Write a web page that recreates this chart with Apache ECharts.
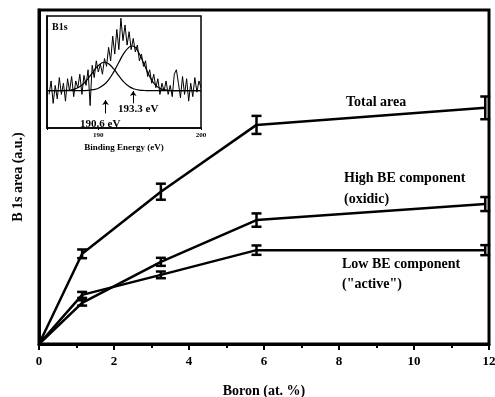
<!DOCTYPE html>
<html>
<head>
<meta charset="utf-8">
<script src="https://cdn.jsdelivr.net/npm/echarts@6/dist/echarts.min.js"></script>
<style>
  html, body { margin: 0; padding: 0; background: #fff; }
  #chart { width: 495px; height: 397px; }
</style>
</head>
<body>
<div id="chart"></div>
<script>
// main plot: B 1s area vs boron content
const boron = [0, 1.15, 3.25, 5.8, 11.9]
const totalArea = [0, 27.0, 45.6, 65.6, 70.7]
const totalErr = [0, 1.3, 2.4, 2.7, 3.4]
const highBE = [0, 12.3, 24.6, 37.1, 41.9]
const highErr = [0, 0.8, 1.2, 2.0, 2.1]
const lowBE = [0, 14.7, 20.7, 28.1, 28.1]
const lowErr = [0, 0.9, 1.0, 1.4, 1.5]

// inset: B1s spectrum, 185.2 .. 200 eV in 0.2 eV steps
const specStart = 185.2
const specStep = 0.2
const specCounts = [
  30, 42, 22, 38, 26, 45, 30, 40, 24, 44,
  33, 46, 28, 42, 36, 48, 30, 47, 38, 52,
  20, 56, 45, 60, 50, 57, 48, 62, 55, 72,
  60, 82, 66, 88, 70, 98, 78, 92, 74, 86,
  70, 80, 68, 74, 60, 66, 55, 60, 46, 52,
  40, 48, 36, 44, 30, 40, 33, 42, 30, 38,
  28, 48, 52, 40, 27, 46, 30, 44, 24, 40,
  28, 45, 32, 42, 36
]
// fitted components read at 0.5 eV
const fitEnergy = [185, 186, 187, 187.5, 188, 188.5, 189, 189.5, 190, 190.6, 191, 191.5, 192, 192.5, 193, 193.3, 193.5, 194, 194.5, 195, 195.5, 196, 196.5, 197, 197.5, 198, 199, 200]
const lowFit = [33.3, 33.3, 33.6, 34.3, 35.9, 39.1, 44.1, 50.2, 55.8, 58.7, 57.4, 52.7, 46.5, 40.9, 37.0, 35.6, 34.8, 33.8, 33.5, 33.3, 33.3, 33.3, 33.3, 33.3, 33.3, 33.3, 33.3, 33.3]
const highFit = [33.3, 33.3, 33.3, 33.3, 33.3, 33.4, 33.6, 34.2, 35.5, 39.0, 43.0, 50.1, 58.7, 66.9, 72.2, 73.2, 72.8, 66.0, 56.0, 46.0, 39.0, 35.5, 34.0, 33.5, 33.3, 33.3, 33.3, 33.3]

const font = 'Liberation Serif'

function pairs (xs, ys) {
  return xs.map((x, i) => [x, ys[i]])
}
function errData (ys, es) {
  return boron.map((x, i) => [x, ys[i], es[i]])
}

function renderErr (params, api) {
  const x = api.value(0)
  const y = api.value(1)
  const e = api.value(2)
  if (!e) return null
  const top = api.coord([x, y + e])
  const bot = api.coord([x, y - e])
  const w = 5
  const style = { stroke: '#000', lineWidth: 2.5 }
  return {
    type: 'group',
    children: [
      { type: 'line', shape: { x1: top[0], y1: top[1], x2: bot[0], y2: bot[1] }, style: style },
      { type: 'line', shape: { x1: top[0] - w, y1: top[1], x2: top[0] + w, y2: top[1] }, style: style },
      { type: 'line', shape: { x1: bot[0] - w, y1: bot[1], x2: bot[0] + w, y2: bot[1] }, style: style }
    ]
  }
}

function mainLine (ys) {
  return {
    type: 'line',
    xAxisIndex: 0,
    yAxisIndex: 0,
    data: pairs(boron, ys),
    showSymbol: false,
    lineStyle: { color: '#000', width: 2.5 },
    z: 3
  }
}
function errSeries (ys, es) {
  return {
    type: 'custom',
    xAxisIndex: 0,
    yAxisIndex: 0,
    data: errData(ys, es),
    renderItem: renderErr,
    z: 4
  }
}

const specData = specCounts.map((v, i) => [+(specStart + i * specStep).toFixed(1), v])

const chart = echarts.init(document.getElementById('chart'))
const option = {
  animation: false,
  backgroundColor: '#fff',
  grid: [
    { left: 39, right: 6, top: 10, bottom: 53, show: true, borderColor: '#000', borderWidth: 3, containLabel: false, outerBoundsMode: 'none' },
    { left: 47, top: 16, width: 154, height: 112, show: true, backgroundColor: '#fff', borderColor: '#000', borderWidth: 1.5, z: 5, containLabel: false, outerBoundsMode: 'none' }
  ],
  xAxis: [
    {
      gridIndex: 0,
      type: 'value',
      min: 0,
      max: 12,
      interval: 2,
      name: 'Boron (at. %)',
      nameLocation: 'middle',
      nameGap: 40,
      nameTextStyle: { fontFamily: font, fontWeight: 'bold', fontSize: 14, color: '#000' },
      axisLine: { lineStyle: { color: '#000', width: 3 } },
      axisTick: { show: true, length: 6, lineStyle: { color: '#000', width: 2 } },
      minorTick: { show: true, splitNumber: 2, length: 4, lineStyle: { color: '#000', width: 2 } },
      splitLine: { show: false },
      axisLabel: { fontFamily: font, fontWeight: 'bold', fontSize: 13, color: '#000', margin: 11 }
    },
    {
      gridIndex: 1,
      type: 'value',
      min: 185,
      max: 200,
      interval: 5,
      name: 'Binding Energy (eV)',
      nameLocation: 'middle',
      nameGap: 15,
      nameTextStyle: { fontFamily: font, fontWeight: 'bold', fontSize: 9, color: '#000' },
      axisLine: { lineStyle: { color: '#000', width: 1.5 } },
      axisTick: { show: true, length: 2, lineStyle: { color: '#000', width: 1 } },
      splitLine: { show: false },
      axisLabel: {
        fontFamily: font,
        fontWeight: 'bold',
        fontSize: 7,
        color: '#000',
        margin: 4,
        formatter: function (v) { return (v === 190 || v === 200) ? String(v) : '' }
      },
      z: 6
    }
  ],
  yAxis: [
    {
      gridIndex: 0,
      type: 'value',
      min: 0,
      max: 100,
      name: 'B 1s area (a.u.)',
      nameLocation: 'middle',
      nameGap: 14,
      nameTextStyle: { fontFamily: font, fontWeight: 'bold', fontSize: 14, color: '#000' },
      axisLine: { show: true, lineStyle: { color: '#000', width: 3 } },
      axisTick: { show: false },
      axisLabel: { show: false },
      splitLine: { show: false }
    },
    {
      gridIndex: 1,
      type: 'value',
      min: 0,
      max: 100,
      axisLine: { show: true, lineStyle: { color: '#000', width: 1.5 } },
      axisTick: { show: false },
      axisLabel: { show: false },
      splitLine: { show: false },
      z: 6
    }
  ],
  graphic: [
    { type: 'text', left: 346, top: 95, style: { text: 'Total area', font: 'bold 14px "Liberation Serif"', fill: '#000' }, z: 10 },
    { type: 'text', left: 344, top: 168, style: { text: 'High BE component\n(oxidic)', font: 'bold 14px "Liberation Serif"', fill: '#000', lineHeight: 21 }, z: 10 },
    { type: 'text', left: 342, top: 254, style: { text: 'Low BE component\n("active")', font: 'bold 14px "Liberation Serif"', fill: '#000', lineHeight: 20 }, z: 10 },
    { type: 'text', left: 52, top: 22, style: { text: 'B1s', font: 'bold 10px "Liberation Serif"', fill: '#000' }, z: 10 },
    { type: 'text', left: 118, top: 104, style: { text: '193.3 eV', font: 'bold 11px "Liberation Serif"', fill: '#000' }, z: 10 },
    { type: 'text', left: 80, top: 119, style: { text: '190.6 eV', font: 'bold 11px "Liberation Serif"', fill: '#000' }, z: 10 }
  ],
  series: [
    mainLine(totalArea),
    mainLine(highBE),
    mainLine(lowBE),
    errSeries(totalArea, totalErr),
    errSeries(highBE, highErr),
    errSeries(lowBE, lowErr),
    {
      type: 'line',
      xAxisIndex: 1,
      yAxisIndex: 1,
      data: specData,
      showSymbol: false,
      lineStyle: { color: '#000', width: 1 },
      z: 7,
      markLine: {
        silent: true,
        symbol: ['none', 'arrow'],
        symbolSize: 5,
        label: { show: false },
        lineStyle: { color: '#000', width: 1, type: 'solid' },
        data: [
          [{ coord: [190.7, 13] }, { coord: [190.7, 25] }],
          [{ coord: [193.4, 22] }, { coord: [193.4, 33] }]
        ]
      }
    },
    {
      type: 'line',
      xAxisIndex: 1,
      yAxisIndex: 1,
      data: pairs(fitEnergy, lowFit),
      smooth: true,
      showSymbol: false,
      lineStyle: { color: '#000', width: 1.2 },
      z: 7
    },
    {
      type: 'line',
      xAxisIndex: 1,
      yAxisIndex: 1,
      data: pairs(fitEnergy, highFit),
      smooth: true,
      showSymbol: false,
      lineStyle: { color: '#000', width: 1.2 },
      z: 7
    }
  ]
}
chart.setOption(option)
</script>
</body>
</html>
